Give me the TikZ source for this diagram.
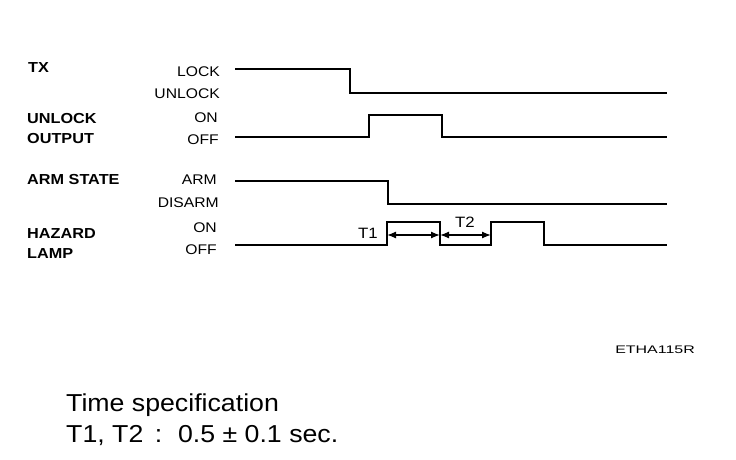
\documentclass[tikz,border=0pt]{standalone}
\usepackage{fontspec}
\setmainfont{Liberation Sans}
\newfontfamily\widefont[FakeStretch=1.12]{Liberation Sans}
\newfontfamily\codefont[FakeStretch=1.45]{Liberation Sans}
\newfontfamily\specfont[FakeStretch=1.09]{Liberation Sans}
\usetikzlibrary{arrows.meta}
\begin{document}
\begin{tikzpicture}[x=1pt,y=-1pt,
  sig/.style={line width=1.8pt,line join=miter},
  lbl/.style={font=\widefont\fontsize{14}{14}\selectfont,anchor=east,inner sep=0pt},
  signame/.style={font=\widefont\fontsize{14.5}{20}\selectfont\bfseries,anchor=west,inner sep=0pt,align=left},
  tlbl/.style={font=\widefont\fontsize{15}{15}\selectfont,inner sep=0pt},
  dim/.style={line width=1.3pt,{Latex[length=9pt,width=7pt]}-{Latex[length=9pt,width=7pt]}}]
\useasboundingbox (0,0) rectangle (736,460);
% names
\node[signame] (ntx) at (28,68) {TX};
\node[signame] (nuo) at (27,129) {UNLOCK\\OUTPUT};
\node[signame] (nas) at (27,180) {ARM STATE};
\node[signame] (nhl) at (27,244) {HAZARD\\LAMP};
% levels
\node[lbl] (l1) at (220,72) {LOCK};
\node[lbl] (l2) at (220,93.5) {UNLOCK};
\node[lbl] (l3) at (218,117.5) {ON};
\node[lbl] (l4) at (219,139.5) {OFF};
\node[lbl] (l5) at (217,179.5) {ARM};
\node[lbl] (l6) at (219,203) {DISARM};
\node[lbl] (l7) at (217,228) {ON};
\node[lbl] (l8) at (217,249.5) {OFF};
% signals
\draw[sig] (235,69) -- (350,69) -- (350,93) -- (667,93);
\draw[sig] (235,137) -- (369,137) -- (369,115) -- (442,115) -- (442,137) -- (667,137);
\draw[sig] (235,181) -- (388,181) -- (388,204) -- (667,204);
\draw[sig] (235,245) -- (387,245) -- (387,222) -- (440,222) -- (440,245) -- (491,245) -- (491,222) -- (544,222) -- (544,245) -- (667,245);
% dimensions
\coordinate (a) at (387,235);
\coordinate (b) at (440,235);
\coordinate (c) at (491,235);
\draw[dim] (a) -- (b);
\draw[dim] (b) -- (c);
\node[tlbl] (t1) at (368,233) {T1};
\node[tlbl] (t2) at (465,222) {T2};
% code
\node[font=\codefont\fontsize{11}{11}\selectfont,inner sep=0pt,anchor=east] (code) at (695,350) {ETHA115R};
% spec
\node[font=\specfont\fontsize{24.5}{31}\selectfont,inner sep=0pt,anchor=base west,align=left] (spec) at (66,442) {Time specification\\T1, T2\hspace{4pt} :\hspace{6pt} 0.5 ± 0.1 sec.};
\end{tikzpicture}
\end{document}
